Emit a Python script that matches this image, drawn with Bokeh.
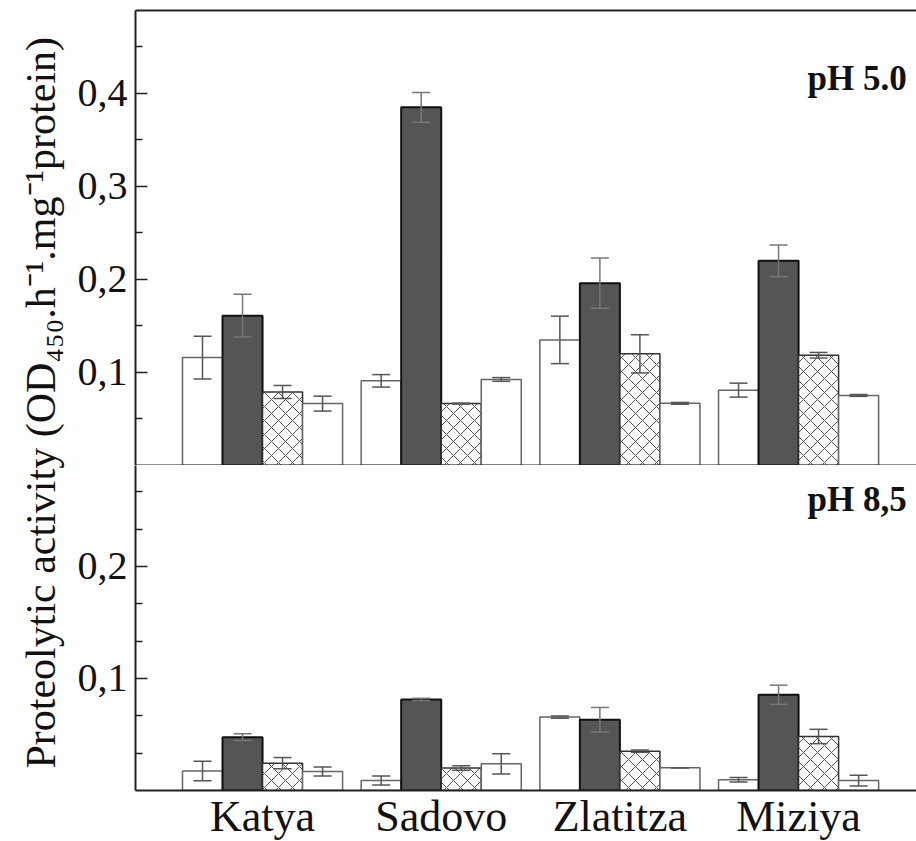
import numpy as np
from math import pi
from bokeh.plotting import figure
from bokeh.models import (ColumnDataSource, Range1d, LinearAxis, FixedTicker,
                          CustomJSTickFormatter, Whisker, TeeHead, Label)
from bokeh.transform import dodge
from bokeh.layouts import row, column
from bokeh.embed import file_html
from bokeh.resources import INLINE

# ---------------- data ----------------
cultivars = ["Katya", "Sadovo", "Zlatitza", "Miziya"]

# pH 5.0 panel (4 series per cultivar: white, dark, hatched, white)
ph50_s1 = [0.116, 0.091, 0.135, 0.081]
ph50_s1_err = [0.023, 0.0067, 0.0255, 0.0075]
ph50_s2 = [0.161, 0.385, 0.196, 0.220]
ph50_s2_err = [0.023, 0.016, 0.027, 0.017]
ph50_s3 = [0.079, 0.0665, 0.120, 0.1185]
ph50_s3_err = [0.007, 0.0005, 0.0205, 0.003]
ph50_s4 = [0.0665, 0.0925, 0.0668, 0.0753]
ph50_s4_err = [0.008, 0.002, 0.001, 0.001]

# pH 8,5 panel
ph85_s1 = [0.0173, 0.0089, 0.0655, 0.0095]
ph85_s1_err = [0.0087, 0.004, 0.001, 0.002]
ph85_s2 = [0.0476, 0.0813, 0.0631, 0.0854]
ph85_s2_err = [0.003, 0.001, 0.011, 0.0086]
ph85_s3 = [0.0244, 0.020, 0.0351, 0.0482]
ph85_s3_err = [0.005, 0.002, 0.001, 0.0064]
ph85_s4 = [0.017, 0.0238, 0.0203, 0.0089]
ph85_s4_err = [0.004, 0.009, 0.0, 0.0048]

top_ticks = [0.1, 0.2, 0.3, 0.4]
top_minor = [0.05, 0.15, 0.25, 0.35, 0.45]
bot_ticks = [0.1, 0.2]
bot_minor = [1/30, 2/30, 4/30, 5/30, 7/30, 8/30]

y_label = "Proteolytic activity  (OD\u2084\u2085\u2080.h\u207b\u00b9.mg\u207b\u00b9protein)"

# ---------------- style ----------------
FONT = "Liberation Serif"
offsets = [-0.336, -0.112, 0.112, 0.336]
BAR_W = 0.224
AX_COLOR = "#222222"
styles = [
    dict(fill_color="white", line_color="#666666", line_width=1.5),
    dict(fill_color="#555555", line_color="#111111", line_width=2),
    dict(fill_color="white", line_color="#333333", line_width=1.5,
         hatch_pattern="diagonal_cross", hatch_color="#555555",
         hatch_scale=14, hatch_weight=1),
    dict(fill_color="white", line_color="#666666", line_width=1.5),
]

x_range = Range1d(-0.711, 3.660)
comma_fmt = CustomJSTickFormatter(code="return tick.toFixed(1).replace('.', ',');")


def style_left_axis(ax):
    ax.axis_line_width = 2
    ax.axis_line_color = AX_COLOR
    ax.major_tick_in = 12
    ax.major_tick_out = 0
    ax.minor_tick_in = 7
    ax.minor_tick_out = 0
    ax.major_tick_line_width = 1.5
    ax.minor_tick_line_width = 1.5
    ax.major_tick_line_color = AX_COLOR
    ax.minor_tick_line_color = AX_COLOR
    ax.major_label_text_font = FONT
    ax.major_label_text_font_size = "40px"
    ax.major_label_text_color = "#111111"
    ax.major_label_standoff = 8


def line_axis():
    ax = LinearAxis(ticker=FixedTicker(ticks=[]))
    ax.axis_line_width = 2
    ax.axis_line_color = AX_COLOR
    ax.major_tick_in = 0
    ax.major_tick_out = 0
    ax.minor_tick_in = 0
    ax.minor_tick_out = 0
    ax.major_label_standoff = 0
    return ax


def add_series(p, values, errors):
    for i, (vals, errs) in enumerate(zip(values, errors)):
        src = ColumnDataSource(dict(
            x=list(range(len(cultivars))),
            top=vals,
            upper=[v + e for v, e in zip(vals, errs)],
            lower=[v - e for v, e in zip(vals, errs)],
        ))
        p.vbar(x=dodge("x", offsets[i], range=p.x_range), top="top", bottom=0,
               width=BAR_W, source=src, **styles[i])
        wcol = "#777777" if i == 1 else "#555555"
        w = Whisker(base=dodge("x", offsets[i], range=p.x_range),
                    upper="upper", lower="lower", source=src, level="overlay",
                    line_color=wcol, line_width=1.5,
                    upper_head=TeeHead(size=18, line_color=wcol, line_width=1.5),
                    lower_head=TeeHead(size=18, line_color=wcol, line_width=1.5))
        p.add_layout(w)


# ---------------- top panel (pH 5.0) ----------------
p_top = figure(frame_width=781, frame_height=455, x_range=x_range, y_range=Range1d(0, 0.489),
               x_axis_type=None, y_axis_type=None, output_backend="svg",
               toolbar_location=None, min_border_left=67, min_border_right=0,
               min_border_top=10, min_border_bottom=0, outline_line_color=None)
ax_top = LinearAxis(ticker=FixedTicker(ticks=top_ticks, minor_ticks=top_minor),
                    formatter=comma_fmt)
style_left_axis(ax_top)
p_top.add_layout(ax_top, "left")
p_top.add_layout(line_axis(), "above")
p_top.add_layout(line_axis(), "below")
add_series(p_top, [ph50_s1, ph50_s2, ph50_s3, ph50_s4],
           [ph50_s1_err, ph50_s2_err, ph50_s3_err, ph50_s4_err])
p_top.add_layout(Label(x=3.605, y=0.416, text="pH 5.0", text_align="right",
                       text_baseline="alphabetic", text_font=FONT,
                       text_font_style="bold",
                       text_font_size="35px", text_color="#111111"))

# ---------------- bottom panel (pH 8,5) ----------------
p_bot = figure(frame_width=781, frame_height=325, x_range=x_range, y_range=Range1d(0, 0.29),
               x_axis_type=None, y_axis_type=None, output_backend="svg",
               toolbar_location=None, min_border_left=67, min_border_right=0,
               min_border_top=0, min_border_bottom=0, outline_line_color=None)
ax_bot = LinearAxis(ticker=FixedTicker(ticks=bot_ticks, minor_ticks=bot_minor),
                    formatter=comma_fmt)
style_left_axis(ax_bot)
p_bot.add_layout(ax_bot, "left")
ax_x = LinearAxis(ticker=FixedTicker(ticks=list(range(len(cultivars)))),
                  formatter=CustomJSTickFormatter(args=dict(cats=cultivars),
                                                  code="return cats[Math.round(tick)] || '';"))
ax_x.axis_line_width = 2
ax_x.axis_line_color = AX_COLOR
ax_x.major_tick_in = 0
ax_x.major_tick_out = 0
ax_x.minor_tick_in = 0
ax_x.minor_tick_out = 0
ax_x.major_label_standoff = 1
ax_x.major_label_text_font = FONT
ax_x.major_label_text_font_size = "44px"
ax_x.major_label_text_color = "#111111"
p_bot.add_layout(ax_x, "below")
add_series(p_bot, [ph85_s1, ph85_s2, ph85_s3, ph85_s4],
           [ph85_s1_err, ph85_s2_err, ph85_s3_err, ph85_s4_err])
p_bot.add_layout(Label(x=3.605, y=0.26, text="pH 8,5", text_align="right",
                       text_baseline="alphabetic", text_font=FONT,
                       text_font_style="bold",
                       text_font_size="35px", text_color="#111111"))

# ---------------- y-axis title strip ----------------
p_lab = figure(width=68, height=830, x_range=Range1d(0, 1), y_range=Range1d(0, 1),
               x_axis_type=None, y_axis_type=None, output_backend="svg",
               toolbar_location=None, min_border=0, outline_line_color=None)
p_lab.add_layout(Label(x=40 / 68, y=(830 - 397) / 830, text=y_label, angle=pi / 2,
                       text_align="center", text_baseline="middle",
                       text_font=FONT, text_font_size="42px", text_color="#111111"))

layout = row(p_lab, column(p_top, p_bot))
open("out.html", "w").write(file_html(layout, INLINE))
